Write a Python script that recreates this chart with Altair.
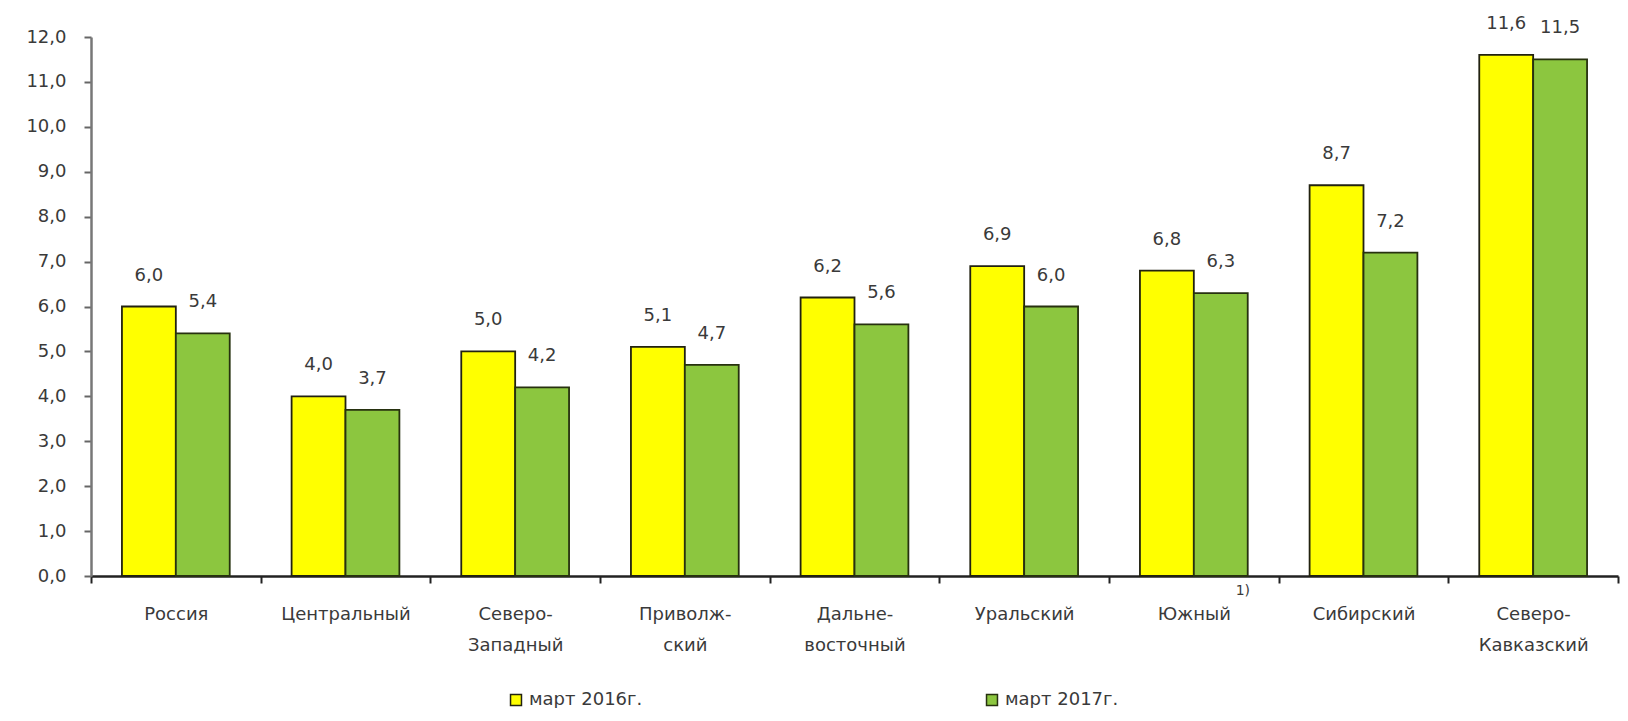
import altair as alt
import pandas as pd

regions = ["Россия", "Центральный", "Северо-\nЗападный", "Приволж-\nский",
           "Дальне-\nвосточный", "Уральский", "Южный", "Сибирский",
           "Северо-\nКавказский"]
series = ["март 2016г.", "март 2017г."]
v2016 = [6.0, 4.0, 5.0, 5.1, 6.2, 6.9, 6.8, 8.7, 11.6]
v2017 = [5.4, 3.7, 4.2, 4.7, 5.6, 6.0, 6.3, 7.2, 11.5]
colors = ["#ffff00", "#8cc63f"]
strokes = ["#222210", "#27310f"]
footnote_region = "Южный"
footnote_text = "1)"

rows = []
for i, r in enumerate(regions):
    rows.append({"region": r, "series": series[0], "value": v2016[i]})
    rows.append({"region": r, "series": series[1], "value": v2017[i]})
df = pd.DataFrame(rows)

FONT = "DejaVu Sans"
W, H = 1527, 539

x = alt.X("region:N", sort=regions, title=None,
          scale=alt.Scale(paddingInner=0, paddingOuter=0),
          axis=alt.Axis(labelAngle=0, tickBand="extent", tickSize=7, tickWidth=2,
                        tickColor="#222", domainColor="#222", domainWidth=2.5,
                        labelFont=FONT, labelFontSize=18, labelColor="#3a3a3a",
                        labelPadding=22, labelLineHeight=31, labelBaseline="top",
                        labelExpr="split(datum.label, '\\n')"))
xo = alt.XOffset("series:N", sort=series, scale=alt.Scale(paddingOuter=0.574, paddingInner=0))
y = alt.Y("value:Q", title=None,
          scale=alt.Scale(domain=[0, 12], nice=False),
          axis=alt.Axis(values=list(range(13)), grid=False, tickSize=7, tickWidth=2,
                        tickColor="#666", domainColor="#777", domainWidth=2.5,
                        labelFont=FONT, labelFontSize=18, labelColor="#3a3a3a",
                        labelPadding=18,
                        labelExpr="replace(format(datum.value, '.1f'), '.', ',')"))

base = alt.Chart(df)
bars = base.mark_bar(strokeWidth=1.8).encode(
    x=x, xOffset=xo, y=y,
    color=alt.Color("series:N", sort=series, title=None,
                    scale=alt.Scale(domain=series, range=colors),
                    legend=alt.Legend(orient="none", direction="horizontal",
                                      legendX=416, legendY=654,
                                      symbolType="square", symbolSize=120,
                                      symbolStrokeColor="#333", symbolStrokeWidth=1.5,
                                      labelFont=FONT, labelFontSize=18,
                                      labelColor="#3a3a3a", labelOffset=4,
                                      columnPadding=340)),
    stroke=alt.Stroke("series:N", sort=series,
                      scale=alt.Scale(domain=series, range=strokes), legend=None),
)
labels = base.transform_calculate(
    lbl="replace(format(datum.value, '.1f'), '.', ',')"
).mark_text(font=FONT, fontSize=18, color="#3a3a3a", baseline="middle", dy=-31).encode(
    x=alt.X("region:N", sort=regions), xOffset=alt.XOffset("series:N", sort=series),
    y="value:Q", text="lbl:N",
)
fn = alt.Chart(pd.DataFrame({"region": [footnote_region], "t": [footnote_text]})).mark_text(
    font=FONT, fontSize=14, color="#3a3a3a", baseline="middle", dx=49
).encode(x=alt.X("region:N", sort=regions), y=alt.value(H + 15), text="t:N")

chart = alt.layer(bars, labels, fn).properties(
    width=W, height=H,
    autosize=alt.AutoSizeParams(type="none"),
    padding={"left": 83, "top": 29, "right": 2, "bottom": 132},
    background="white",
).configure_view(stroke=None)

chart.save("out.html", embed_options={"renderer": "svg", "actions": False})
